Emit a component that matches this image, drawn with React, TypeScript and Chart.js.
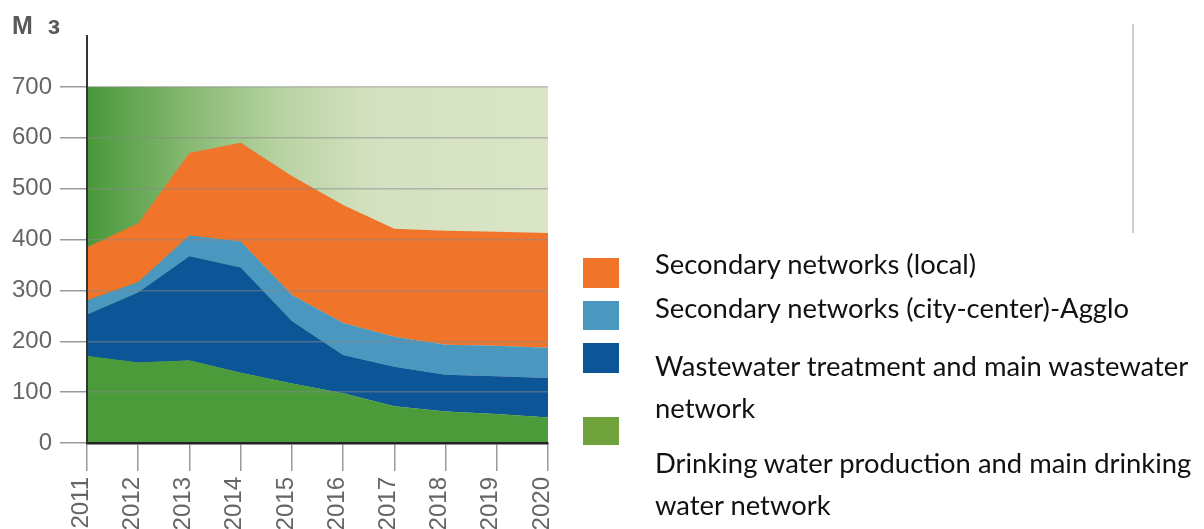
import React, { useEffect, useRef } from "react";
import { Chart, registerables } from "chart.js";

Chart.register(...registerables);

// Investment per network type, millions, stacked
const years = ["2011", "2012", "2013", "2014", "2015", "2016", "2017", "2018", "2019", "2020"];
const drinkingWater = [171, 158, 162, 138, 117, 98, 72, 62, 57, 50];
const wastewater = [81, 138, 205, 207, 123, 75, 78, 72, 74, 78];
const secondaryAgglo = [28, 20, 41, 51, 51, 63, 59, 59, 60, 59];
const secondaryLocal = [105, 116, 162, 194, 234, 232, 212, 224, 224, 226];

const yTickMax = 700;
const yUnit = "M з";

const legendLabels = [
  "Secondary networks (local)",
  "Secondary networks (city-center)-Agglo",
  "Wastewater treatment and main wastewater\nnetwork",
  "Drinking water production and main drinking\nwater network",
];

const COLORS = {
  local: "#f0742a",
  agglo: "#4a97c0",
  wastewater: "#0c5597",
  drinking: "#4b9b3a",
  drinkingSwatch: "#6fa23a",
};

const legendSwatchColors = [COLORS.local, COLORS.agglo, COLORS.wastewater, COLORS.drinkingSwatch];
const legendSwatchBoxes = [
  { top: 258, height: 30 },
  { top: 301, height: 29 },
  { top: 343, height: 30 },
  { top: 417, height: 28 },
];
const legendTextTops = [243, 287, 345, 442];

// Green-to-pale backdrop behind the stacked areas, up to the top tick
const plotBackground = {
  id: "plotBackground",
  beforeDatasetsDraw(chart: any) {
    const { ctx, chartArea, scales } = chart;
    const yTop = scales.y.getPixelForValue(yTickMax);
    const yBottom = scales.y.getPixelForValue(0);
    const g = ctx.createLinearGradient(chartArea.left, 0, chartArea.right, 0);
    g.addColorStop(0, "#479839");
    g.addColorStop(0.22, "#86b972");
    g.addColorStop(0.42, "#b8d3a2");
    g.addColorStop(0.62, "#d4e1c0");
    g.addColorStop(1, "#dae5c8");
    ctx.save();
    ctx.fillStyle = g;
    ctx.fillRect(chartArea.left, yTop, chartArea.right - chartArea.left, yBottom - yTop);
    ctx.restore();
  },
};

// Unit caption above the value axis
const unitCaption = {
  id: "unitCaption",
  afterDraw(chart: any) {
    const { ctx } = chart;
    ctx.save();
    ctx.font = "bold 25px 'Liberation Sans', Arial, sans-serif";
    ctx.fillStyle = "#5a5a5a";
    ctx.textBaseline = "alphabetic";
    ctx.textAlign = "left";
    (ctx as any).letterSpacing = "4px";
    ctx.fillText(yUnit, 12, 34);
    ctx.restore();
  },
};

export default function App() {
  const canvasRef = useRef<HTMLCanvasElement | null>(null);

  useEffect(() => {
    document.body.style.margin = "0";
    document.body.style.overflow = "hidden";
    const canvas = canvasRef.current;
    if (!canvas) return;

    const tickFont = { family: "'Liberation Sans', Arial, sans-serif", size: 24 };

    const series = [
      { label: legendLabels[3], data: drinkingWater, color: COLORS.drinking, fill: "origin" },
      { label: legendLabels[2], data: wastewater, color: COLORS.wastewater, fill: "-1" },
      { label: legendLabels[1], data: secondaryAgglo, color: COLORS.agglo, fill: "-1" },
      { label: legendLabels[0], data: secondaryLocal, color: COLORS.local, fill: "-1" },
    ];

    const chart = new Chart(canvas, {
      type: "line",
      data: {
        labels: years,
        datasets: series.map((s) => ({
          label: s.label,
          data: s.data,
          backgroundColor: s.color,
          borderColor: s.color,
          borderWidth: 0,
          pointRadius: 0,
          tension: 0,
          fill: s.fill,
        })),
      },
      options: {
        animation: false,
        responsive: false,
        maintainAspectRatio: false,
        layout: { padding: { top: 36, right: 656, left: 0, bottom: 0 } },
        plugins: {
          legend: { display: false },
          tooltip: { enabled: false },
        },
        scales: {
          x: {
            offset: false,
            grid: {
              z: 1,
              drawOnChartArea: false,
              tickLength: 28,
              color: "#9a9a9a",
              lineWidth: 1.5,
            },
            border: { color: "#222", width: 2.5, z: 2 },
            ticks: {
              maxRotation: 90,
              minRotation: 90,
              padding: 6,
              labelOffset: -6,
              color: "#666",
              font: tickFont,
            },
            afterFit: (s: any) => {
              s.height = 86;
            },
          },
          y: {
            stacked: true,
            min: 0,
            max: 800,
            ticks: {
              stepSize: 100,
              padding: 8,
              color: "#666",
              font: tickFont,
              callback: (v: any) => (Number(v) <= yTickMax ? String(v) : null),
            },
            grid: {
              z: 1,
              color: "rgba(135,135,135,0.5)",
              tickColor: "#9a9a9a",
              tickLength: 27,
              lineWidth: 1.5,
            },
            border: { color: "#333", width: 2, z: 2 },
            afterFit: (s: any) => {
              s.width = 87;
            },
          },
        },
      } as any,
      plugins: [plotBackground, unitCaption],
    });

    return () => chart.destroy();
  }, []);

  return (
    <div style={{ position: "relative", width: 1204, height: 529, overflow: "hidden", background: "#fff" }}>
      <canvas ref={canvasRef} width={1204} height={529} style={{ display: "block", width: 1204, height: 529 }} />
      <div
        style={{
          position: "absolute",
          left: 1132,
          top: 24,
          width: 2,
          height: 209,
          background: "#cfcfcf",
        }}
      />
      {legendLabels.map((label, i) => (
        <React.Fragment key={label}>
          <div
            style={{
              position: "absolute",
              left: 583,
              top: legendSwatchBoxes[i].top,
              width: 36,
              height: legendSwatchBoxes[i].height,
              background: legendSwatchColors[i],
            }}
          />
          <div
            style={{
              position: "absolute",
              left: 655,
              top: legendTextTops[i],
              fontFamily: "Lato, 'Open Sans', sans-serif",
              fontSize: 27.4,
              lineHeight: "42px",
              color: "#111",
              whiteSpace: "pre",
            }}
          >
            {label}
          </div>
        </React.Fragment>
      ))}
    </div>
  );
}
